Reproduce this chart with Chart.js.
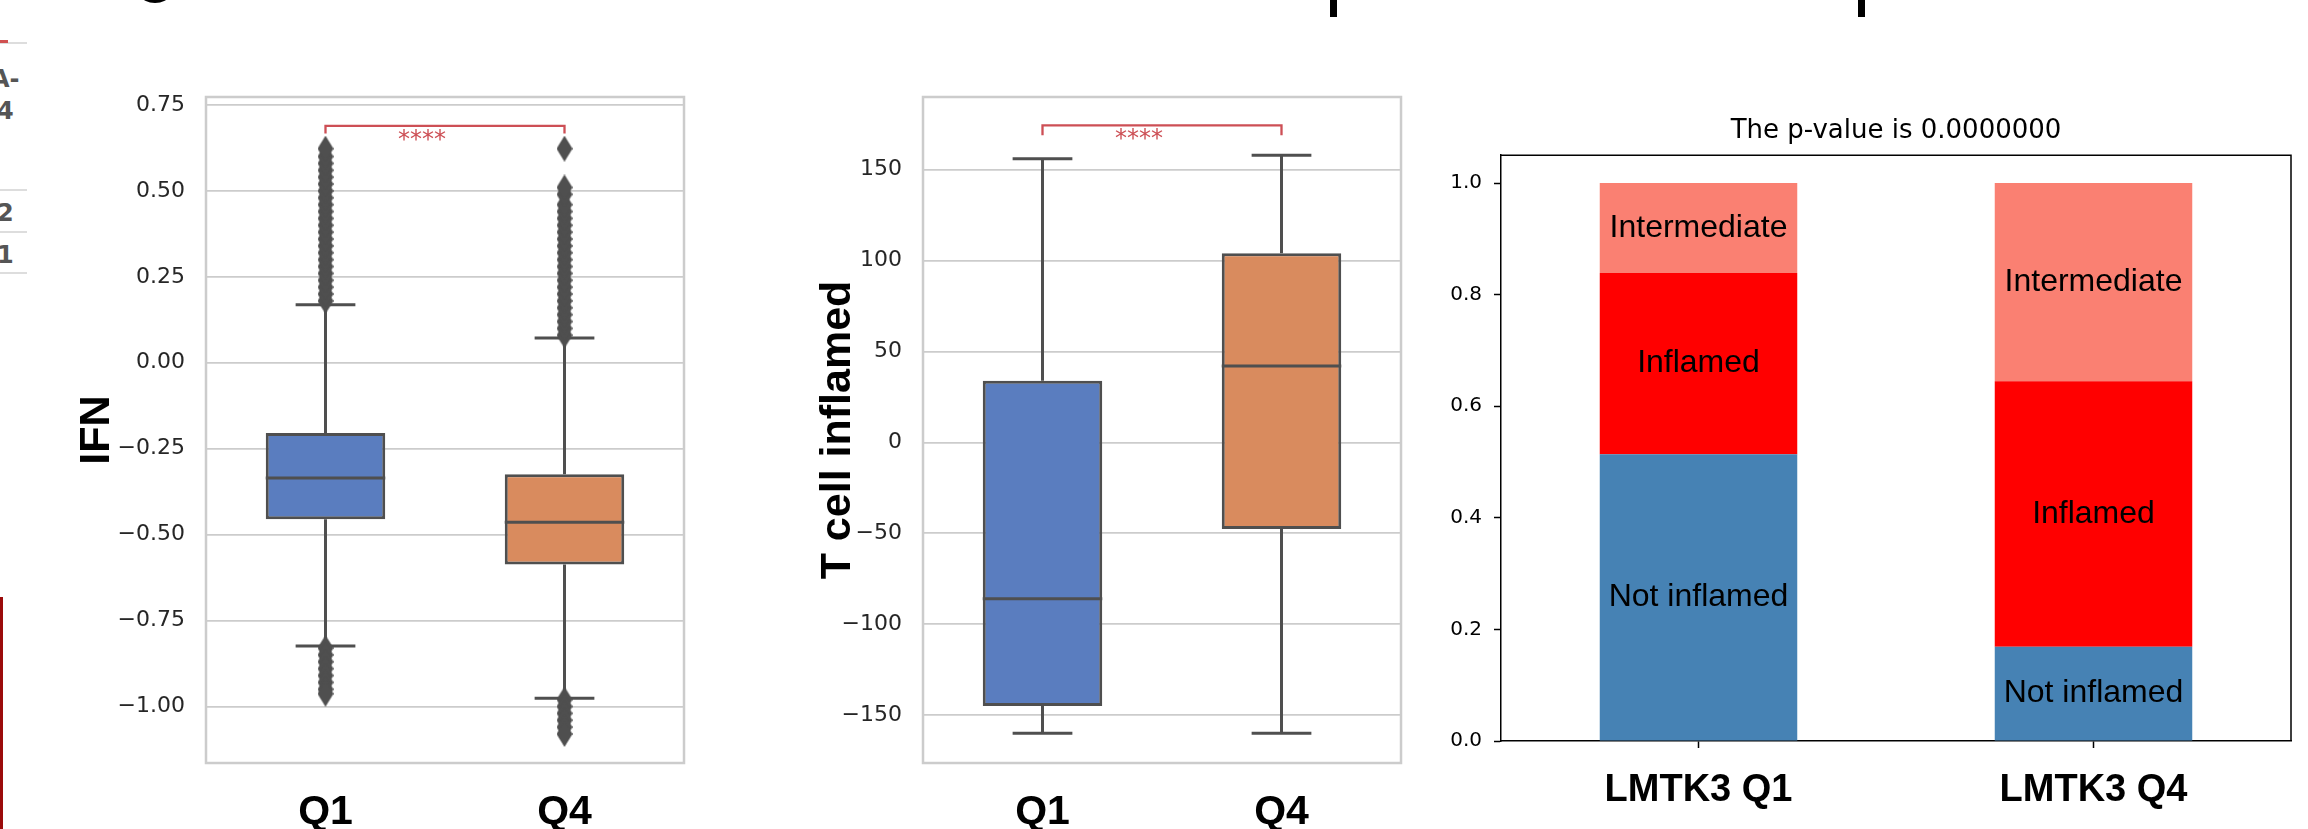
<!DOCTYPE html>
<html>
<head>
<meta charset="utf-8">
<script src="https://cdn.jsdelivr.net/npm/chart.js@4.4.0/dist/chart.umd.min.js"></script>
<style>
  body { margin: 0; background: #fff; width: 2308px; height: 829px; overflow: hidden; position: relative; }
  canvas { position: absolute; top: 0; }
  .frag { position: absolute; font-family: 'DejaVu Sans'; font-weight: bold; font-size: 24px; color: #555; line-height: 1; }
  .rule { position: absolute; left: 0; width: 27px; height: 2px; background: #dddddd; }
</style>
</head>
<body>
<!-- bits of the neighbouring panels that were cut off -->
<div class="rule" style="top:42px"></div>
<div style="position:absolute;left:0;top:40px;width:8px;height:3px;background:#d05050"></div>
<div class="frag" style="left:-9px;top:67px">A-</div>
<div class="frag" style="left:-3px;top:99px">4</div>
<div class="rule" style="top:189px"></div>
<div class="frag" style="left:-3px;top:201px">2</div>
<div class="rule" style="top:231px"></div>
<div class="frag" style="left:-3px;top:243px">1</div>
<div class="rule" style="top:272px"></div>
<div style="position:absolute;left:0;top:597px;width:3px;height:232px;background:#9b0a0a"></div>
<div style="position:absolute;left:142px;top:-10px;width:26px;height:13px;background:#000;border-radius:50%"></div>
<div style="position:absolute;left:1330px;top:0;width:7px;height:17px;background:#000"></div>
<div style="position:absolute;left:1858px;top:0;width:7px;height:17px;background:#000"></div>

<canvas id="ifnChart" width="700" height="829" style="left:0"></canvas>
<canvas id="tcellChart" width="720" height="829" style="left:700px"></canvas>
<canvas id="typeChart" width="888" height="829" style="left:1420px"></canvas>

<script>
// ---- data ----
const groups = ['Q1', 'Q4'];

// box stats: [lower whisker, q1, median, q3, upper whisker]
const ifnQ1 = [-0.824, -0.455, -0.335, -0.204, 0.169];
const ifnQ4 = [-0.976, -0.587, -0.464, -0.324, 0.072];
const ifnOutliersQ1 = [0.18, 0.20, 0.22, 0.24, 0.26, 0.28, 0.30, 0.32, 0.34, 0.36, 0.38, 0.40, 0.42, 0.44,
  0.46, 0.48, 0.50, 0.52, 0.54, 0.56, 0.58, 0.60, 0.623,
  -0.83, -0.85, -0.87, -0.89, -0.91, -0.93, -0.95, -0.963];
const ifnOutliersQ4 = [0.08, 0.10, 0.12, 0.14, 0.16, 0.18, 0.20, 0.22, 0.24, 0.26, 0.28, 0.30, 0.32, 0.34,
  0.36, 0.38, 0.40, 0.42, 0.44, 0.46, 0.49, 0.51, 0.623,
  -0.98, -1.00, -1.02, -1.04, -1.06, -1.08];
const ifnTicks = [-1.0, -0.75, -0.5, -0.25, 0, 0.25, 0.5, 0.75];

const tcellQ1 = [-160, -145, -86, 34, 156];
const tcellQ4 = [-160, -47.6, 42, 104, 158];
const tcellTicks = [-150, -100, -50, 0, 50, 100, 150];

const typeGroups = ['LMTK3 Q1', 'LMTK3 Q4'];
const segmentNames = ['Not inflamed', 'Inflamed', 'Intermediate'];
const notInflamed = [0.514, 0.169];
const inflamed = [0.325, 0.476];
const intermediate = [0.161, 0.355];
const typeTicks = [0, 0.2, 0.4, 0.6, 0.8, 1.0];

// ---- styles ----
const boxColors = ['#5a7dbf', '#d98b5e'];
const lineGray = '#4f4f4f';
const sigRed = '#cd4f55';
const boxLine = 3;
const minus = v => (v < 0 ? '\u2212' : '') + Math.abs(v);

function diamondImage() {
  const c = document.createElement('canvas');
  c.width = 16; c.height = 26;
  const g = c.getContext('2d');
  g.fillStyle = lineGray;
  g.beginPath();
  g.moveTo(8, 0); g.lineTo(16, 13); g.lineTo(8, 26); g.lineTo(0, 13);
  g.closePath();
  g.fill();
  return c;
}
const diamond = diamondImage();

function boxExtras(stats, bracket) {
  return {
    id: 'boxExtras',
    beforeDatasetsDraw(chart) {
      const { ctx, chartArea: a, scales: { x, y } } = chart;
      const bars = chart.getDatasetMeta(0).data;
      ctx.save();
      ctx.strokeStyle = '#cccccc';
      ctx.lineWidth = 2.5;
      ctx.strokeRect(a.left, a.top, a.right - a.left, a.bottom - a.top);
      ctx.strokeStyle = lineGray;
      ctx.lineWidth = boxLine;
      stats.forEach((s, i) => {
        const cx = x.getPixelForValue(i);
        const half = bars[i].width / 4;
        ctx.beginPath();
        ctx.moveTo(cx, y.getPixelForValue(s[0]));
        ctx.lineTo(cx, y.getPixelForValue(s[1]));
        ctx.moveTo(cx, y.getPixelForValue(s[3]));
        ctx.lineTo(cx, y.getPixelForValue(s[4]));
        [s[0], s[4]].forEach(v => {
          const py = y.getPixelForValue(v);
          ctx.moveTo(cx - half, py);
          ctx.lineTo(cx + half, py);
        });
        ctx.stroke();
      });
      ctx.restore();
    },
    afterDatasetsDraw(chart) {
      const { ctx, scales: { x, y } } = chart;
      const bars = chart.getDatasetMeta(0).data;
      ctx.save();
      ctx.strokeStyle = lineGray;
      ctx.lineWidth = boxLine;
      stats.forEach((s, i) => {
        const b = bars[i];
        const py = y.getPixelForValue(s[2]);
        ctx.beginPath();
        ctx.moveTo(b.x - b.width / 2, py);
        ctx.lineTo(b.x + b.width / 2, py);
        ctx.stroke();
      });
      // significance bracket
      const x0 = x.getPixelForValue(0), x1 = x.getPixelForValue(1);
      const top = y.getPixelForValue(bracket.top), tip = y.getPixelForValue(bracket.tip);
      ctx.strokeStyle = sigRed;
      ctx.lineWidth = 2.3;
      ctx.beginPath();
      ctx.moveTo(x0, tip); ctx.lineTo(x0, top); ctx.lineTo(x1, top); ctx.lineTo(x1, tip);
      ctx.stroke();
      ctx.fillStyle = sigRed;
      ctx.font = '24px "DejaVu Sans"';
      ctx.textAlign = 'center';
      ctx.textBaseline = 'alphabetic';
      ctx.fillText('****', (x0 + x1) / 2 - 23, top + 21);
      ctx.restore();
    }
  };
}

function boxChart(id, stats, outliers, ticks, min, max, fmt, title, yWidth, titlePad, rightPad, bracket) {
  const points = [];
  outliers.forEach((list, i) => list.forEach(v => points.push({ x: groups[i], y: v })));
  return new Chart(document.getElementById(id), {
    type: 'bar',
    data: {
      labels: groups,
      datasets: [
        {
          data: stats.map(s => [s[1], s[3]]),
          backgroundColor: boxColors,
          borderColor: lineGray,
          borderWidth: boxLine,
          borderSkipped: false,
          barPercentage: 0.5,
          categoryPercentage: 1.0,
        },
        {
          type: 'line',
          data: points,
          showLine: false,
          pointStyle: diamond,
          pointRadius: 8,
        },
      ],
    },
    options: {
      responsive: false,
      animation: false,
      layout: { padding: { top: 97, right: rightPad, bottom: 0, left: 0 } },
      plugins: { legend: { display: false }, tooltip: { enabled: false } },
      scales: {
        x: {
          grid: { display: false },
          border: { display: false },
          ticks: { padding: 17, color: '#000', font: { family: 'Liberation Sans', size: 41, weight: 'bold' } },
          afterFit: s => { s.height = 66; },
        },
        y: {
          min: min,
          max: max,
          afterBuildTicks: s => { s.ticks = ticks.map(v => ({ value: v })); },
          afterFit: s => { s.width = yWidth; },
          grid: { color: '#cccccc', lineWidth: 1.8, drawTicks: false },
          border: { display: false },
          ticks: { padding: 21, color: '#262626', font: { family: 'DejaVu Sans', size: 22 }, callback: v => fmt(v) },
          title: {
            display: true, text: title, color: '#000',
            font: { family: 'Liberation Sans', size: 43, weight: 'bold' },
            padding: { top: titlePad, bottom: 0 },
          },
        },
      },
    },
    plugins: [boxExtras(stats, bracket)],
  });
}

boxChart('ifnChart', [ifnQ1, ifnQ4], [ifnOutliersQ1, ifnOutliersQ4], ifnTicks, -1.1645, 0.7733,
  v => (v < 0 ? '\u2212' : '') + Math.abs(v).toFixed(2), 'IFN', 206, 71, 16, { top: 0.689, tip: 0.667 });

boxChart('tcellChart', [tcellQ1, tcellQ4], [[], []], tcellTicks, -176.3, 190,
  v => minus(v), 'T cell inflamed', 223, 112, 19, { top: 174.4, tip: 169 });

// ---- stacked proportions ----
const segmentLabels = {
  id: 'segmentLabels',
  afterDatasetsDraw(chart) {
    const { ctx, chartArea: a } = chart;
    ctx.save();
    ctx.strokeStyle = '#000';
    ctx.lineWidth = 1.5;
    ctx.beginPath();
    ctx.moveTo(a.left, a.top); ctx.lineTo(a.right, a.top); ctx.lineTo(a.right, a.bottom);
    ctx.stroke();
    ctx.fillStyle = '#000';
    ctx.font = '32px "Liberation Sans"';
    ctx.textAlign = 'center';
    ctx.textBaseline = 'middle';
    chart.data.datasets.forEach((ds, di) => {
      chart.getDatasetMeta(di).data.forEach(el => {
        ctx.fillText(ds.label, el.x, (el.y + el.base) / 2);
      });
    });
    ctx.restore();
  }
};

const tickStyle = { drawOnChartArea: false, drawTicks: true, tickLength: 7, tickColor: '#000', tickWidth: 1.5 };

new Chart(document.getElementById('typeChart'), {
  type: 'bar',
  data: {
    labels: typeGroups,
    datasets: [
      { label: segmentNames[0], data: notInflamed, backgroundColor: '#4682b4' },
      { label: segmentNames[1], data: inflamed, backgroundColor: '#ff0000' },
      { label: segmentNames[2], data: intermediate, backgroundColor: '#fa8072' },
    ],
  },
  options: {
    responsive: false,
    animation: false,
    datasets: { bar: { barPercentage: 0.5, categoryPercentage: 1.0, borderWidth: 0 } },
    layout: { padding: { top: 0, right: 17, bottom: 0, left: 0 } },
    plugins: {
      legend: { display: false },
      tooltip: { enabled: false },
      title: {
        display: true, text: 'The p-value is 0.0000000', color: '#000',
        fullSize: false,
        font: { family: 'DejaVu Sans', size: 26, weight: 'normal' },
        padding: { top: 116, bottom: 8 },
      },
    },
    scales: {
      x: {
        stacked: true,
        grid: Object.assign({ offset: false }, tickStyle),
        border: { display: true, color: '#000', width: 1.5 },
        ticks: { padding: 20, color: '#000', font: { family: 'Liberation Sans', size: 38, weight: 'bold' } },
        afterFit: s => { s.height = 88; },
      },
      y: {
        stacked: true,
        min: 0,
        max: 1.05,
        afterBuildTicks: s => { s.ticks = typeTicks.map(v => ({ value: v })); },
        afterFit: s => { s.width = 81; },
        grid: tickStyle,
        border: { display: true, color: '#000', width: 1.5 },
        ticks: { padding: 12, color: '#000', font: { family: 'DejaVu Sans', size: 20 }, callback: v => v.toFixed(1) },
      },
    },
  },
  plugins: [segmentLabels],
});
</script>
</body>
</html>
